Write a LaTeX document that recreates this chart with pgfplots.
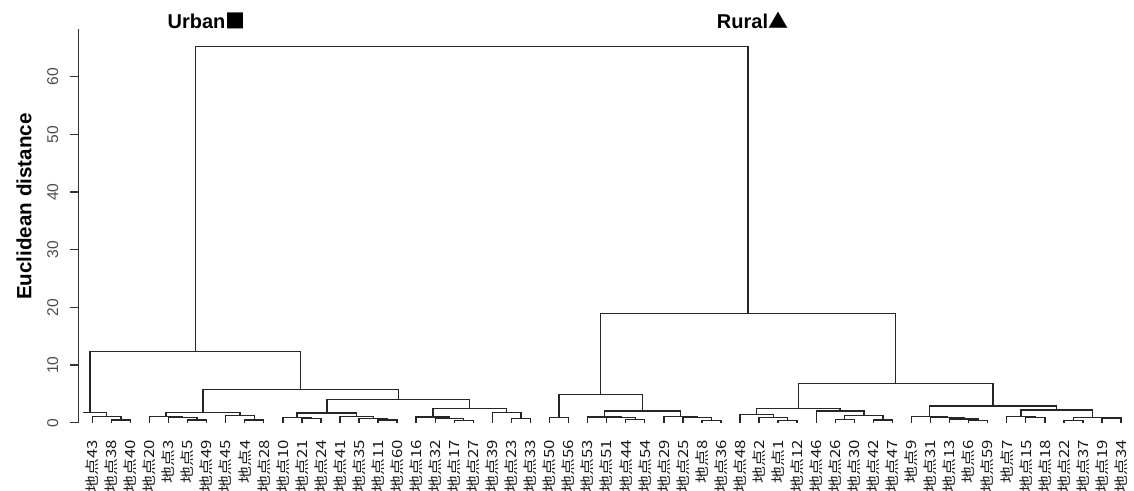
\documentclass[border=0pt]{standalone}
\usepackage{fontspec}
\setmainfont{Liberation Sans}
\newfontfamily\cjk{Noto Sans CJK JP}
\usepackage{pgfplots}
\pgfplotsset{compat=1.18}
\tikzset{dend/.style={black!85, line width=0.7pt}}
\begin{document}
\begin{tikzpicture}[x=1pt,y=1pt]
\path[use as bounding box] (0,0) rectangle (567,245.5);
\begin{axis}[
  at={(39.15pt,34.15pt)}, anchor=south west,
  scale only axis, width=527.83pt, height=196.65pt,
  xmin=-0.735, xmax=54.68, ymin=0, ymax=68.2,
  axis lines=left, axis line style={-, black!80, line width=0.6pt},
  x axis line style={draw=none},
  clip=false,
  xtick={0,...,54},
  xticklabels={地点43,地点38,地点40,地点20,地点3,地点5,地点49,地点45,地点4,地点28,地点10,地点21,地点24,地点41,地点35,地点11,地点60,地点16,地点32,地点17,地点27,地点39,地点23,地点33,地点50,地点56,地点53,地点51,地点44,地点54,地点29,地点25,地点8,地点36,地点48,地点2,地点1,地点12,地点46,地点26,地点30,地点42,地点47,地点9,地点31,地点13,地点6,地点59,地点7,地点15,地点18,地点22,地点37,地点19,地点34},
  xtick style={draw=none},
  xticklabel style={yshift=-4.5pt, rotate=90, xscale=1.2, anchor=east, inner sep=0pt, font=\cjk\fontsize{7}{7}\selectfont, text=black!90},
  ytick={0,10,...,60},
  ytick style={black!80, line width=0.6pt},
  tick align=outside, major tick length=4pt,
  yticklabel style={xshift=-2.5pt, rotate=90, anchor=south, font=\fontsize{7.8}{8}\selectfont, text=black!70},
  /pgf/number format/assume math mode=true,
]
% Urban
\addplot[dend] coordinates {(1,0)(1,0.47)(2,0.47)(2,0)};
\addplot[dend] coordinates {(0,0)(0,1.1)(1.5,1.1)(1.5,0.47)};
\addplot[dend] coordinates {(-0.5,1.73)(0.75,1.73)(0.75,1.1)};
\addplot[dend] coordinates {(5,0)(5,0.5)(6,0.5)(6,0)};
\addplot[dend] coordinates {(4,0)(4,0.85)(5.5,0.85)(5.5,0.5)};
\addplot[dend] coordinates {(3,0)(3,1.1)(4.75,1.1)(4.75,0.85)};
\addplot[dend] coordinates {(8,0)(8,0.5)(9,0.5)(9,0)};
\addplot[dend] coordinates {(7,0)(7,1.2)(8.5,1.2)(8.5,0.5)};
\addplot[dend] coordinates {(3.875,1.1)(3.875,1.8)(7.75,1.8)(7.75,1.2)};
\addplot[dend] coordinates {(11,0)(11,0.75)(12,0.75)(12,0)};
\addplot[dend] coordinates {(10,0)(10,0.9)(11.5,0.9)(11.5,0.75)};
\addplot[dend] coordinates {(15,0)(15,0.46)(16,0.46)(16,0)};
\addplot[dend] coordinates {(14,0)(14,0.75)(15.5,0.75)(15.5,0.46)};
\addplot[dend] coordinates {(13,0)(13,1.05)(14.75,1.05)(14.75,0.75)};
\addplot[dend] coordinates {(10.75,0.9)(10.75,1.65)(13.875,1.65)(13.875,1.05)};
\addplot[dend] coordinates {(19,0)(19,0.35)(20,0.35)(20,0)};
\addplot[dend] coordinates {(18,0)(18,0.75)(19.5,0.75)(19.5,0.35)};
\addplot[dend] coordinates {(17,0)(17,1.0)(18.75,1.0)(18.75,0.75)};
\addplot[dend] coordinates {(22,0)(22,0.72)(23,0.72)(23,0)};
\addplot[dend] coordinates {(21,0)(21,1.72)(22.5,1.72)(22.5,0.72)};
\addplot[dend] coordinates {(17.875,1.0)(17.875,2.5)(21.75,2.5)(21.75,1.72)};
\addplot[dend] coordinates {(12.3125,1.65)(12.3125,4.06)(19.8125,4.06)(19.8125,2.5)};
\addplot[dend] coordinates {(5.8125,1.8)(5.8125,5.8)(16.0625,5.8)(16.0625,4.06)};
\addplot[dend] coordinates {(-0.12,1.73)(-0.12,12.3)(10.9375,12.3)(10.9375,5.8)};
% Rural
\addplot[dend] coordinates {(24,0)(24,0.9)(25,0.9)(25,0)};
\addplot[dend] coordinates {(28,0)(28,0.6)(29,0.6)(29,0)};
\addplot[dend] coordinates {(27,0)(27,0.9)(28.5,0.9)(28.5,0.6)};
\addplot[dend] coordinates {(26,0)(26,1.02)(27.75,1.02)(27.75,0.9)};
\addplot[dend] coordinates {(32,0)(32,0.38)(33,0.38)(33,0)};
\addplot[dend] coordinates {(31,0)(31,0.85)(32.5,0.85)(32.5,0.38)};
\addplot[dend] coordinates {(30,0)(30,1.05)(31.75,1.05)(31.75,0.85)};
\addplot[dend] coordinates {(26.875,1.02)(26.875,2.03)(30.875,2.03)(30.875,1.05)};
\addplot[dend] coordinates {(24.5,0.9)(24.5,4.92)(28.875,4.92)(28.875,2.03)};
\addplot[dend] coordinates {(36,0)(36,0.38)(37,0.38)(37,0)};
\addplot[dend] coordinates {(35,0)(35,0.9)(36.5,0.9)(36.5,0.38)};
\addplot[dend] coordinates {(34,0)(34,1.4)(35.75,1.4)(35.75,0.9)};
\addplot[dend] coordinates {(39,0)(39,0.6)(40,0.6)(40,0)};
\addplot[dend] coordinates {(41,0)(41,0.47)(42,0.47)(42,0)};
\addplot[dend] coordinates {(39.5,0.6)(39.5,1.25)(41.5,1.25)(41.5,0.47)};
\addplot[dend] coordinates {(38,0)(38,2.0)(40.5,2.0)(40.5,1.25)};
\addplot[dend] coordinates {(34.875,1.4)(34.875,2.5)(39.25,2.5)(39.25,2.0)};
\addplot[dend] coordinates {(46,0)(46,0.4)(47,0.4)(47,0)};
\addplot[dend] coordinates {(45,0)(45,0.65)(46.5,0.65)(46.5,0.4)};
\addplot[dend] coordinates {(44,0)(44,0.9)(45.75,0.9)(45.75,0.65)};
\addplot[dend] coordinates {(43,0)(43,1.1)(44.875,1.1)(44.875,0.9)};
\addplot[dend] coordinates {(49,0)(49,0.85)(50,0.85)(50,0)};
\addplot[dend] coordinates {(48,0)(48,1.05)(49.5,1.05)(49.5,0.85)};
\addplot[dend] coordinates {(51,0)(51,0.4)(52,0.4)(52,0)};
\addplot[dend] coordinates {(53,0)(53,0.82)(54,0.82)(54,0)};
\addplot[dend] coordinates {(51.5,0.4)(51.5,0.95)(53.5,0.95)(53.5,0.82)};
\addplot[dend] coordinates {(48.75,1.05)(48.75,2.2)(52.5,2.2)(52.5,0.95)};
\addplot[dend] coordinates {(43.9375,1.1)(43.9375,2.9)(50.625,2.9)(50.625,2.2)};
\addplot[dend] coordinates {(37.0625,2.5)(37.0625,6.75)(47.28125,6.75)(47.28125,2.9)};
\addplot[dend] coordinates {(26.6875,4.92)(26.6875,18.9)(42.171875,18.9)(42.171875,6.75)};
% top
\addplot[dend] coordinates {(5.40875,12.3)(5.40875,65.2)(34.4296875,65.2)(34.4296875,18.9)};
\end{axis}
\node[font=\bfseries\fontsize{10}{12}\selectfont] at (103.25,235.25) {Urban{\cjk ■}};
\node[font=\bfseries\fontsize{10}{12}\selectfont] at (376.25,235.25) {Rural{\cjk ▲}};
\node[rotate=90, font=\bfseries\fontsize{10.3}{12}\selectfont] at (12,142.15) {Euclidean distance};
\end{tikzpicture}
\end{document}
